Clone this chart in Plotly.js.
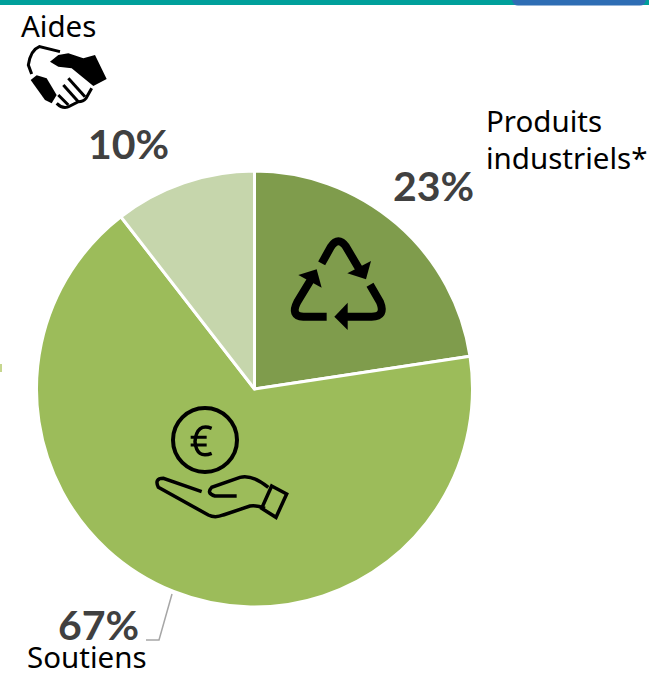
<!DOCTYPE html>
<html><head><meta charset="utf-8">
<script src="https://cdn.plot.ly/plotly-3.0.1.min.js"></script>
<style>html,body{margin:0;padding:0;background:#fff}#c{width:649px;height:676px}</style>
</head><body><div id="c"></div>
<script>
const categories = ["Produits industriels*", "Soutiens", "Aides"];
const values = [22.6, 66.9, 10.5];
const percentLabels = ["23%", "67%", "10%"];
const colors = ["#7F9C4C", "#9CBC5A", "#C6D6AC"];
const W = 649, H = 676;
const LABEL_FONT = "'Noto Sans', sans-serif";
const PCT_FONT = "Lato, sans-serif";

function P(d, ox, oy, s) {
  let isX = true;
  return d.replace(/-?\d+(\.\d+)?/g, m => {
    const v = parseFloat(m);
    const r = isX ? (ox + v / s) / W : 1 - (oy + v / s) / H;
    isX = !isX;
    return r.toFixed(5);
  });
}
function stroke(d, ox, oy, s, w, col, fill) {
  return {type: "path", xref: "paper", yref: "paper", layer: "above",
    path: P(d, ox, oy, s), line: {color: col || "#000", width: w},
    fillcolor: fill || "rgba(0,0,0,0)"};
}
const k = "#000";
const shapes = [
  {type:"rect",xref:"paper",yref:"paper",x0:0,x1:1,y0:1-5/H,y1:1,fillcolor:"#00A09B",line:{width:0}},
  stroke("M 512 0 L 646 0 Q 645 5.5 640 5.5 L 518 5.5 Q 513 5.5 512 0 Z",0,0,1,0,"#2E6DB4","#2E6DB4"),
  {type:"rect",xref:"paper",yref:"paper",x0:0,x1:2/W,y0:1-372/H,y1:1-364/H,fillcolor:"#C6D68E",line:{width:0}},
  stroke("M 172 594 L 159 640 L 146 640",0,0,1,1.5,"#A6A6A6"),
  // recycle icon
  stroke("M 155 160 L 183 110 Q 205 78 228 110 L 268 178",270,210,3,8,k),
  stroke("M 303 153 L 288 208 L 232 190 Z",270,210,3,0,k,k),
  stroke("M 300 224 L 330 276 Q 348 320 305 320 L 230 320",270,210,3,8,k),
  stroke("M 193 320 L 233 278 L 233 360 Z",270,210,3,0,k,k),
  stroke("M 170 320 L 100 320 Q 60 318 82 276 L 122 210",270,210,3,8,k),
  stroke("M 85 195 L 140 178 L 155 233 Z",270,210,3,0,k,k),
  // coin and hand icon
  {type:"circle",xref:"paper",yref:"paper",layer:"above",x0:173/W,x1:237/W,y0:1-472/H,y1:1-408/H,line:{color:k,width:4},fillcolor:"rgba(0,0,0,0)"},
  stroke("M 215 85 Q 170 68 165 125 Q 170 178 215 160",140,400,3,3.5,k),
  stroke("M 152 112 L 200 112 M 152 135 L 200 135",140,400,3,3,k),
  stroke("M 185 275 L 70 235 Q 42 235 55 262 L 205 345 Q 225 355 250 345 L 330 318 Q 350 315 375 325",140,400,3,3.5,k),
  stroke("M 290 288 L 225 288 Q 198 280 215 262 L 300 232 Q 335 222 385 262",140,400,3,3.5,k),
  stroke("M 395 258 L 440 282 L 408 352 L 365 325 Z",140,400,3,3.5,k),
  // handshake icon
  stroke("M 180 155 L 118 140 Q 92 150 85 195 L 95 222",0,0,3,3,k),
  stroke("M 150 185 L 175 165 L 205 160 L 250 175 L 285 165 L 320 237 L 280 258 L 215 205 L 175 200 Z",0,0,3,0,k,k),
  stroke("M 92 240 L 110 226 L 140 235 L 170 285 L 155 310 L 135 300 Z",0,0,3,0,k,k),
  stroke("M 205 235 L 255 290",0,0,3,3,k),
  stroke("M 190 255 L 235 305",0,0,3,3,k),
  stroke("M 175 285 L 205 315",0,0,3,3,k),
  stroke("M 170 310 Q 190 330 210 318 L 235 305 Q 250 305 258 295 L 275 265",0,0,3,3,k)
];

function ann(text, x, y, font, size, color, bold) {
  return {xref:"paper",yref:"paper",x:x/W,y:1-y/H,xanchor:"left",yanchor:"middle",showarrow:false,
    text: bold ? "<b>"+text+"</b>" : text, borderpad:0,
    font:{family:font,size:size,color:color}};
}
const annotations = [
  ann("Aides", 20, 25, LABEL_FONT, 29.5, "#000"),
  ann("Produits", 485, 121, LABEL_FONT, 29.5, "#000"),
  ann("industriels*", 485, 158, LABEL_FONT, 29.5, "#000"),
  ann("Soutiens", 26, 656, LABEL_FONT, 29.5, "#000"),
  ann(percentLabels[2], 87, 143, PCT_FONT, 41, "#404040", true),
  ann(percentLabels[0], 392, 185, PCT_FONT, 41, "#404040", true),
  ann(percentLabels[1], 57, 624, PCT_FONT, 41, "#404040", true)
];

Plotly.newPlot("c", [{
  type:"pie", labels:categories, values:values, sort:false, direction:"clockwise", rotation:0,
  textinfo:"none", hoverinfo:"label+percent",
  marker:{colors:colors, line:{color:"#fff", width:3}},
  domain:{x:[36.5/W,472.5/W], y:[1-607/H,1-171/H]}
}], {
  width:W, height:H, margin:{l:0,r:0,t:0,b:0}, showlegend:false,
  paper_bgcolor:"#fff", shapes:shapes, annotations:annotations
}, {displayModeBar:false});
</script></body></html>
